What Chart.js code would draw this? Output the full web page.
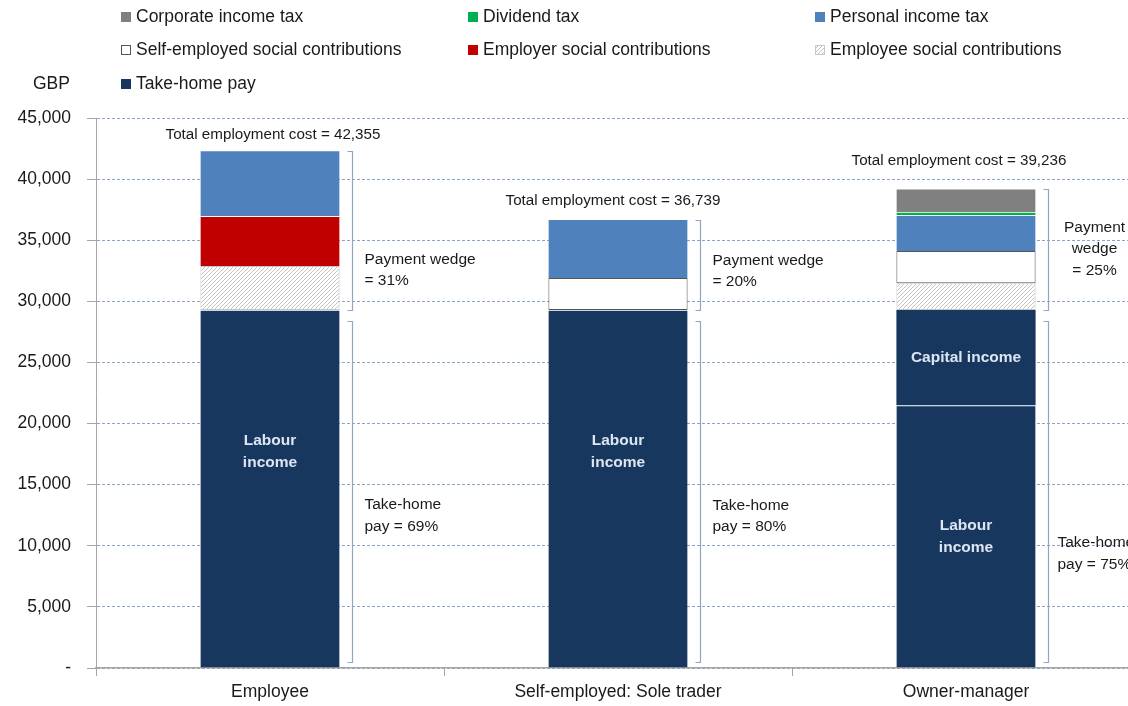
<!DOCTYPE html>
<html>
<head>
<meta charset="utf-8">
<script src="https://cdn.jsdelivr.net/npm/chart.js@4.4.1/dist/chart.umd.min.js"></script>
<style>
  html, body { margin: 0; padding: 0; background: #fff; overflow: hidden; }
</style>
</head>
<body>
<canvas id="chart" width="1150" height="706"></canvas>
<script>
const categories = ['Employee', 'Self-employed: Sole trader', 'Owner-manager'];

// GBP, stacked from the bottom up
const takeHomeLabour = [29300, 29300, 21500];
const takeHomeCapital = [null, null, 7800];
const employeeSocial = [3590, null, 2180];
const selfEmployedSocial = [null, 2610, 2640];
const employerSocial = [4090, null, null];
const personalIncomeTax = [5375, 4829, 2940];
const dividendTax = [null, null, 240];
const corporateIncomeTax = [null, null, 1936];

const yTicks = [0, 5000, 10000, 15000, 20000, 25000, 30000, 35000, 40000, 45000];

const FONT = "'Liberation Sans', Arial, sans-serif";
const NAVY = '#18375e';

const canvas = document.getElementById('chart');
const ctx = canvas.getContext('2d');

// diagonal hatching for employee contributions
const hatch = (() => {
  const c = document.createElement('canvas');
  c.width = c.height = 4;
  const g = c.getContext('2d');
  g.fillStyle = '#fff';
  g.fillRect(0, 0, 4, 4);
  g.strokeStyle = '#b4b4b4';
  g.lineWidth = 0.8;
  g.beginPath();
  g.moveTo(0, 4); g.lineTo(4, 0);
  g.moveTo(-1, 1); g.lineTo(1, -1);
  g.moveTo(3, 5); g.lineTo(5, 3);
  g.stroke();
  return ctx.createPattern(c, 'repeat');
})();

const topLine = { top: 1, left: 0, right: 0, bottom: 0 };

const datasets = [
  { label: 'Take-home pay', data: takeHomeLabour, backgroundColor: NAVY,
    borderColor: '#c9d6e6', borderWidth: topLine },
  { label: 'Capital income', data: takeHomeCapital, backgroundColor: NAVY,
    borderWidth: 0 },
  { label: 'Employee social contributions', data: employeeSocial, backgroundColor: hatch,
    borderColor: '#c8c8c8', borderWidth: 1, borderSkipped: false },
  { label: 'Self-employed social contributions', data: selfEmployedSocial, backgroundColor: '#ffffff',
    borderColor: '#555555', borderWidth: 1, borderSkipped: false },
  { label: 'Employer social contributions', data: employerSocial, backgroundColor: '#c00000',
    borderColor: '#ffffff', borderWidth: topLine },
  { label: 'Personal income tax', data: personalIncomeTax, backgroundColor: '#4f81bd',
    borderColor: '#ffffff', borderWidth: topLine },
  { label: 'Dividend tax', data: dividendTax, backgroundColor: '#00b050',
    borderColor: '#c6efce', borderWidth: topLine },
  { label: 'Corporate income tax', data: corporateIncomeTax, backgroundColor: '#808080',
    borderColor: '#ffffff', borderWidth: topLine },
];

const legendRows = [
  ['Corporate income tax', 'Dividend tax', 'Personal income tax'],
  ['Self-employed social contributions', 'Employer social contributions', 'Employee social contributions'],
  ['Take-home pay'],
];

// placement of the notes around each bar
const notes = {
  totalDx: [3, -5, -7],
  totalGap: [16, 18, 28],
  wedgeAt: [32560, 32480, 34280],
  takeHomeAt: [12440, 12400, 9330],
  labourAt: [17700, 17700, 10750],
};

const sumAt = (i) => datasets.reduce((s, d) => s + (d.data[i] || 0), 0);
const takeHomeAt = (i) => (takeHomeLabour[i] || 0) + (takeHomeCapital[i] || 0);
const fmt = (v) => v.toLocaleString('en-US');

const legendPlugin = {
  id: 'gridLegend',
  afterDraw(chart) {
    const c = chart.ctx;
    const colX = [121, 468, 815];
    const rowY = [17, 50, 84];
    c.save();
    c.font = `17.5px ${FONT}`;
    c.textBaseline = 'middle';
    c.fillStyle = '#1a1a1a';
    legendRows.forEach((row, r) => {
      row.forEach((label, k) => {
        const ds = datasets.find((d) => d.label === label);
        const x = colX[k], y = rowY[r];
        c.fillStyle = ds.backgroundColor;
        c.fillRect(x, y - 5, 10, 10);
        if (ds.borderSkipped === false) {
          c.strokeStyle = ds.borderColor;
          c.lineWidth = 1;
          c.strokeRect(x + 0.5, y - 4.5, 9, 9);
        }
        c.fillStyle = '#1a1a1a';
        c.fillText(label, x + 15, y);
      });
    });
    c.fillText('GBP', 33, 84);
    c.restore();
  },
};

const notesPlugin = {
  id: 'barNotes',
  afterDatasetsDraw(chart) {
    const c = chart.ctx;
    const y = chart.scales.y;
    const bars = chart.getDatasetMeta(0).data;
    c.save();
    bars.forEach((bar, i) => {
      const total = sumAt(i);
      const home = takeHomeAt(i);
      const yTop = y.getPixelForValue(total);
      const yHome = y.getPixelForValue(home);
      const yZero = y.getPixelForValue(0);
      const right = bar.x + bar.width / 2;
      const bx = Math.round(right + 12) + 0.5;

      // total cost above the bar
      c.font = `15.2px ${FONT}`;
      c.fillStyle = '#1a1a1a';
      c.textAlign = 'center';
      c.textBaseline = 'middle';
      c.fillText(`Total employment cost = ${fmt(total)}`, bar.x + notes.totalDx[i], yTop - notes.totalGap[i]);

      // brackets
      c.strokeStyle = '#8ea6bf';
      c.lineWidth = 1.2;
      const bracket = (y1, y2) => {
        c.beginPath();
        c.moveTo(bx - 5, y1);
        c.lineTo(bx, y1);
        c.lineTo(bx, y2);
        c.lineTo(bx - 5, y2);
        c.stroke();
      };
      bracket(Math.round(yTop) + 1.5, Math.round(yHome) + 0.5);
      bracket(Math.round(yHome) + 11.5, Math.round(yZero) - 5.5);

      const homePct = Math.round((home / total) * 100);
      const wedgePct = 100 - homePct;
      const lh = 21.5;

      // payment wedge text
      c.font = `15.5px ${FONT}`;
      const wy = y.getPixelForValue(notes.wedgeAt[i]);
      if (i === 2) {
        c.textAlign = 'center';
        ['Payment', 'wedge', `= ${wedgePct}%`].forEach((t, k) => c.fillText(t, bx + 46, wy + (k - 1) * lh));
      } else {
        c.textAlign = 'left';
        ['Payment wedge', `= ${wedgePct}%`].forEach((t, k) => c.fillText(t, bx + 12, wy + (k - 0.5) * lh));
      }

      // take-home text
      const hy = y.getPixelForValue(notes.takeHomeAt[i]);
      c.textAlign = 'left';
      ['Take-home', `pay = ${homePct}%`].forEach((t, k) => c.fillText(t, bx + (i === 2 ? 9 : 12), hy + (k - 0.5) * lh));

      // labels inside the take-home bar
      c.font = `bold 15.5px ${FONT}`;
      c.fillStyle = '#dce6f2';
      c.textAlign = 'center';
      const ly = y.getPixelForValue(notes.labourAt[i]);
      c.fillText('Labour', bar.x, ly - 11);
      c.fillText('income', bar.x, ly + 11);
      if (takeHomeCapital[i]) {
        const cy = y.getPixelForValue(takeHomeLabour[i] + takeHomeCapital[i] / 2);
        c.fillText('Capital income', bar.x, cy);
      }
    });
    c.restore();
  },
};

new Chart(canvas, {
  type: 'bar',
  data: { labels: categories, datasets },
  plugins: [legendPlugin, notesPlugin],
  options: {
    responsive: false,
    animation: false,
    layout: { padding: { top: 118, right: 10, bottom: 0, left: 0 } },
    datasets: { bar: { barPercentage: 0.4, categoryPercentage: 1 } },
    plugins: { legend: { display: false }, tooltip: { enabled: false } },
    scales: {
      x: {
        stacked: true,
        afterFit: (s) => { s.height = 38; },
        grid: { drawOnChartArea: false, drawTicks: true, tickLength: 8, tickColor: '#a6a6a6', offset: true },
        border: { color: '#a6a6a6', width: 1.5 },
        ticks: { color: '#1a1a1a', font: { family: FONT, size: 17.5 }, padding: 6 },
      },
      y: {
        stacked: true,
        min: 0,
        max: 45000,
        afterFit: (s) => { s.width = 96; },
        afterBuildTicks: (s) => { s.ticks = yTicks.map((v) => ({ value: v })); },
        grid: { color: '#8aa5c2', lineWidth: 1, tickColor: '#a6a6a6', tickLength: 9 },
        border: { color: '#a6a6a6', width: 1, dash: [3, 2] },
        ticks: {
          color: '#1a1a1a',
          font: { family: FONT, size: 17.5 },
          padding: 16,
          callback: (v) => (v === 0 ? '-' : fmt(v)),
        },
      },
    },
  },
});
</script>
</body>
</html>
